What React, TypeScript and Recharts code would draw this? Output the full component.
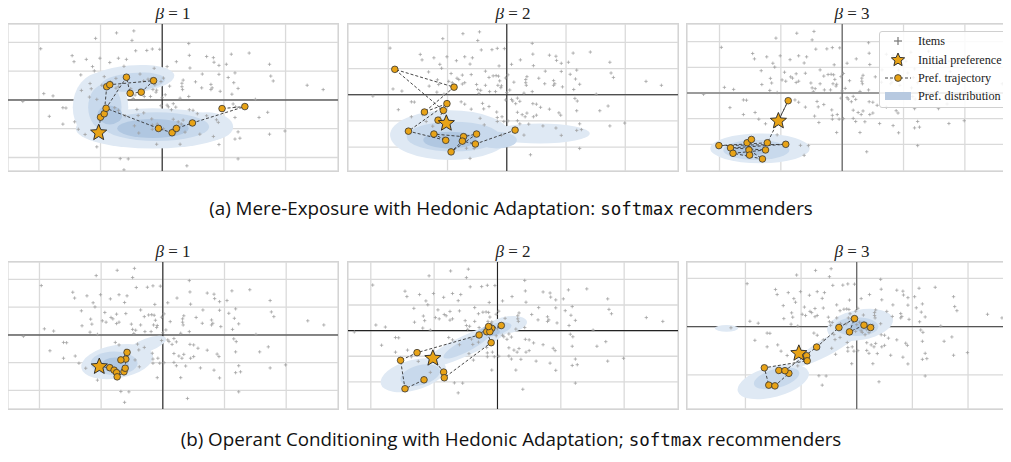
import React from 'react';
import { ScatterChart, Scatter, XAxis, YAxis, CartesianGrid, ReferenceLine } from 'recharts';

type Pt = [number, number];
// [x, y, rx, ry, rotation (deg), level]
type Blob = [number, number, number, number, number, number];

// item embeddings (same items in every panel)
const ITEMS: Pt[] = [
    [-0.74, 2.33], [-0.46, 2.40], [-1.08, 2.14], [-0.49, 2.07], [0.43, 1.96], [-1.97, 1.78], [-0.43, 1.71],
    [-0.25, 1.72], [-0.16, 1.77], [-0.04, 1.76], [0.44, 1.55], [-1.46, 1.54], [-1.23, 1.41], [-1.43, 1.33],
    [-1.01, 1.45], [-0.71, 1.45], [-0.58, 1.41], [0.72, 1.51], [0.83, 1.47], [1.12, 1.59], [1.41, 1.63],
    [1.74, 1.24], [0.84, 1.31], [0.92, 1.20], [1.04, 1.24], [0.23, 1.33], [0.08, 1.16], [-0.13, 1.10],
    [0.45, 1.11], [-0.85, 1.30], [-0.62, 1.17], [-1.13, 1.16], [-1.10, 1.01], [0.65, 0.90], [0.92, 0.89],
    [1.18, 0.94], [-1.32, 0.87], [-0.94, 0.81], [-0.75, 0.75], [-0.60, 0.77], [-0.36, 0.90], [-0.23, 0.72],
    [-0.18, 0.73], [-0.14, 0.71], [0.02, 0.76], [-0.02, 0.64], [0.12, 0.48], [0.34, 0.69], [0.32, 0.58],
    [0.32, 0.46], [0.33, 0.36], [0.54, 0.63], [0.64, 0.42], [0.79, 0.54], [0.81, 0.42], [0.79, 0.36],
    [0.94, 0.30], [1.07, 0.78], [1.16, 0.60], [1.23, 0.40], [1.76, 0.83], [1.80, 0.66], [-0.84, 0.63],
    [-0.81, 0.58], [-0.75, 0.41], [-0.71, 0.46], [-1.17, 0.57], [-1.15, 0.39], [-1.31, 0.33], [-0.98, 0.51],
    [-0.92, 0.46], [-0.30, 0.66], [-0.12, 0.53], [-0.15, 0.36], [-0.10, 0.27], [-0.36, 0.36], [-0.51, 0.39],
    [-0.49, 0.20], [-0.44, 0.17], [-0.47, 0.05], [-0.29, 0.12], [-0.09, 0.34], [-0.19, 0.12], [0.00, 0.08],
    [0.05, 0.18], [0.29, 0.06], [0.43, 0.12], [1.13, 0.20], [-1.92, 0.22], [-1.77, 0.14], [-1.18, 0.10],
    [-1.06, 0.02], [-2.26, -0.05], [2.35, 0.51], [2.61, 0.36], [1.51, 0.02],
    [-1.61, -0.27], [-1.56, -0.28], [-1.83, -0.57], [-1.61, -0.84], [-1.42, -0.76], [-1.36, -1.02],
    [-0.77, -0.27], [-0.71, -0.36], [-0.41, -0.33], [-0.39, -0.54], [-0.02, -0.20], [0.08, -0.18],
    [0.18, -0.13], [0.10, -0.24], [0.15, -0.34], [0.22, -0.25], [0.44, -0.34], [0.50, -0.36], [0.57, -0.48],
    [0.72, -0.55], [0.88, -0.69], [0.91, -0.78], [1.15, -0.14], [1.19, -0.24], [1.18, -0.61], [1.57, -0.61],
    [1.71, -0.43], [0.18, -0.67], [0.26, -0.76], [0.34, -0.70], [0.31, -0.84], [-0.17, -0.66], [-0.16, -0.87],
    [-0.16, -1.02], [-0.08, -0.84], [-0.05, -1.02], [0.02, -1.00], [0.18, -0.99], [0.22, -1.11], [0.37, -1.12],
    [0.45, -0.84], [0.50, -0.78], [0.61, -1.19], [0.83, -1.27], [1.23, -1.11], [1.26, -1.33], [1.18, -1.36],
    [1.74, -1.19], [1.99, -1.08], [-0.09, -1.54], [0.29, -1.54], [0.92, -1.55], [-1.06, -1.63], [-0.68, -2.04],
    [-0.55, -2.05], [1.23, -2.05], [0.40, -2.29], [-0.62, -2.43],
    [-0.45, -0.90], [-0.38, -1.15], [-0.60, -0.55], [-1.25, -1.20], [-0.30, -0.45],
];

// preference trajectories, first entry = initial preference
const TRAJ_A1: Pt[] = [
    [-1.03, -1.14], [-1.00, -0.60], [-0.94, -0.48], [-0.90, 0.46], [-0.85, 0.53], [-0.14, 0.67], [-0.34, 0.27],
    [-0.52, 0.23], [-0.58, 0.79], [-0.91, -0.29], [-0.06, -0.99], [0.16, -1.14], [0.23, -0.99], [0.49, -0.80],
    [1.34, -0.23], [0.97, -0.30],
];
const TRAJ_A2: Pt[] = [
    [-1.02, -1.09], [-1.16, -0.97], [-1.07, -0.60], [-1.89, 0.97], [-0.89, 0.29], [-1.39, -0.66], [-1.01, -0.34],
    [-1.66, -1.39], [-1.03, -1.74], [-1.23, -1.50], [-0.73, -1.60], [-0.51, -1.50], [-0.94, -2.18], [-0.75, -1.77],
    [-0.53, -1.88], [0.14, -1.35],
];
const TRAJ_A3: Pt[] = [
    [-1.04, -1.09], [-0.88, -0.30], [-1.22, -1.94], [-2.01, -2.05], [-0.92, -2.00], [-1.82, -2.14], [-1.25, -2.22],
    [-1.78, -2.35], [-1.30, -2.57], [-1.52, -2.22], [-1.51, -2.42], [-1.55, -1.94], [-1.48, -1.81],
];
const TRAJ_B1: Pt[] = [
    [-1.03, -1.14], [-0.86, -1.18], [-0.79, -1.27], [-0.75, -1.36], [-0.74, -1.51], [-0.63, -1.33], [-0.61, -1.20],
    [-0.60, -0.87], [-0.68, -0.90], [-0.58, -0.63],
];
const TRAJ_B2: Pt[] = [
    [-1.02, -1.08], [-0.85, -1.62], [-0.84, -1.84], [-0.10, -0.47], [-0.17, -0.04], [0.06, 0.20], [-0.09, 0.09],
    [-0.12, -0.04], [-0.14, 0.16], [-0.29, -0.17], [-1.27, -0.86], [-1.53, -1.16], [-1.46, -2.27], [-1.16, -1.92],
];
const TRAJ_B3: Pt[] = [
    [-1.04, -1.11], [-0.90, -1.21], [-0.89, -1.42], [-1.66, -1.71], [-1.58, -2.43], [-1.47, -2.46], [-1.22, -1.94],
    [-1.40, -1.82], [-1.29, -1.83], [-0.72, -0.85], [-0.32, -0.04], [-0.04, 0.33], [-0.13, -0.22], [0.13, 0.06],
    [0.25, -0.04],
];

// preference distribution (kde levels approximated by ellipses)
const BLOB_A1: Blob[] = [
    [-0.15, -0.99, 1.25, 0.70, 0, 1], [-1.00, -0.25, 0.45, 1.20, 0, 1], [-0.52, 0.72, 0.72, 0.48, -5, 1],
    [0.72, -0.93, 0.43, 0.50, 0, 1],
    [-0.09, -0.93, 0.85, 0.50, 0, 2], [-0.93, -0.25, 0.27, 0.80, 0, 2], [-0.47, 0.62, 0.52, 0.32, -5, 2],
    [-0.15, -0.99, 0.58, 0.33, 0, 3], [-0.85, -0.52, 0.20, 0.33, 0, 3],
];
const BLOB_A2: Blob[] = [
    [-0.96, -1.54, 1.01, 0.95, 0, 1], [0.56, -1.48, 0.84, 0.38, 0, 1],
    [-0.90, -1.60, 0.79, 0.57, 0, 2], [-0.17, -1.73, 0.34, 0.32, 0, 2],
    [-0.96, -1.73, 0.45, 0.32, 0, 3],
];
const BLOB_A3: Blob[] = [
    [-1.34, -2.16, 0.81, 0.58, 0, 1],
    [-1.40, -2.22, 0.54, 0.39, 0, 2],
    [-1.50, -2.22, 0.27, 0.23, 0, 3],
];
const BLOB_B1: Blob[] = [
    [-0.74, -0.96, 0.59, 0.60, -10, 1], [-0.25, -0.36, 0.32, 0.24, -20, 1],
    [-0.79, -1.02, 0.38, 0.42, 0, 2],
    [-0.77, -1.08, 0.22, 0.27, 0, 3],
];
const BLOB_B2: Blob[] = [
    [-1.33, -1.74, 0.53, 0.59, -15, 1], [-0.48, -0.56, 0.79, 0.39, -25, 1], [0.15, 0.22, 0.32, 0.33, -10, 1],
    [-1.22, -1.74, 0.32, 0.39, -15, 2], [-0.06, 0.03, 0.29, 0.24, -15, 2], [-0.48, -0.56, 0.42, 0.24, -28, 2],
    [-0.12, -0.04, 0.16, 0.16, 0, 3],
];
const BLOB_B3: Blob[] = [
    [-1.50, -2.29, 0.66, 0.63, -15, 1], [-0.48, -0.76, 0.72, 0.35, -30, 1], [0.06, 0.07, 0.60, 0.63, -10, 1],
    [-2.34, -0.07, 0.21, 0.14, 0, 1],
    [-1.44, -2.15, 0.42, 0.39, -15, 2], [0.00, 0.00, 0.39, 0.39, 0, 2],
    [0.06, 0.04, 0.18, 0.21, 0, 3],
];

const BETAS = [1, 2, 3, 1, 2, 3];

const LEVEL_FILL = ['#dfe9f4', '#c8d9ec', '#b0c7e1'];
const GOLD = '#E8A317';

interface PanelDef {
    left: number; top: number; xd: [number, number]; yd: [number, number];
    traj: Pt[]; blobs: Blob[]; yStep?: number; axis: string;
}

const W = 330;
const H = 147;

const PANELS: PanelDef[] = [
    { left: 8, top: 24, xd: [-2.50, 2.85], yd: [-2.47, 2.64], traj: TRAJ_A1, blobs: BLOB_A1, axis: '#222' },
    { left: 348, top: 24, xd: [-2.68, 2.89], yd: [-2.91, 2.70], traj: TRAJ_A2, blobs: BLOB_A2, axis: '#222' },
    { left: 687, top: 24, xd: [-2.53, 2.85], yd: [-3.04, 2.69], traj: TRAJ_A3, blobs: BLOB_A3, axis: '#555' },
    { left: 8, top: 262, xd: [-2.51, 2.84], yd: [-2.67, 2.63], traj: TRAJ_B1, blobs: BLOB_B1, axis: '#222' },
    { left: 348, top: 262, xd: [-2.36, 2.85], yd: [-3.06, 2.68], traj: TRAJ_B2, blobs: BLOB_B2, axis: '#222' },
    { left: 687, top: 262, xd: [-3.05, 2.88], yd: [-3.42, 2.68], traj: TRAJ_B3, blobs: BLOB_B3, axis: '#555', yStep: 2 },
];

const makeTicks = (d: [number, number], step = 1) => {
    const out: number[] = [];
    for (let v = Math.ceil(d[0] / step) * step; v <= d[1]; v += step) out.push(v);
    return out;
};

const starPath = (cx: number, cy: number, ro: number, ri: number) => {
    let d = '';
    for (let i = 0; i < 10; i++) {
        const r = i % 2 === 0 ? ro : ri;
        const a = -Math.PI / 2 + (i * Math.PI) / 5;
        d += (i === 0 ? 'M' : 'L') + (cx + r * Math.cos(a)).toFixed(2) + ',' + (cy + r * Math.sin(a)).toFixed(2);
    }
    return d + 'Z';
};

const PlusShape = (props: any) => {
    const { cx, cy } = props;
    return (
        <g stroke="#9f9f9f" strokeWidth={0.75}>
            <line x1={cx - 1.7} y1={cy} x2={cx + 1.7} y2={cy} />
            <line x1={cx} y1={cy - 1.7} x2={cx} y2={cy + 1.7} />
        </g>
    );
};

const Panel: React.FC<{ p: PanelDef; beta: number }> = ({ p, beta }) => {
    const sx = W / (p.xd[1] - p.xd[0]);
    const sy = H / (p.yd[1] - p.yd[0]);
    const items = ITEMS.map(([x, y]) => ({ x, y }));
    const traj = p.traj.map(([x, y], i) => ({ x, y, first: i === 0 }));
    const levels = [1, 2, 3].map(lv =>
        p.blobs.filter(b => b[5] === lv).map(([x, y, rx, ry, rot]) => ({ x, y, rx, ry, rot }))
    );

    return (
        <>
            <div style={{
                position: 'absolute', left: p.left, top: p.top - 20, width: W, textAlign: 'center',
                fontFamily: '"Liberation Serif", serif', fontSize: 17, color: '#222', lineHeight: '20px',
            }}>
                <span style={{ fontStyle: 'italic' }}>β</span> = {beta}
            </div>
            <div style={{ position: 'absolute', left: p.left, top: p.top, width: W, height: H, outline: '1.5px solid #d4d4d4' }}>
                <ScatterChart width={W} height={H} margin={{ top: 0, right: 0, bottom: 0, left: 0 }}>
                    <XAxis type="number" dataKey="x" domain={p.xd} ticks={makeTicks(p.xd)} hide allowDataOverflow />
                    <YAxis type="number" dataKey="y" domain={p.yd} ticks={makeTicks(p.yd, p.yStep || 1)} hide allowDataOverflow />
                    <CartesianGrid stroke="#dadada" strokeWidth={1.3} />
                    {levels.map((data, i) => (
                        <Scatter
                            key={i}
                            data={data}
                            isAnimationActive={false}
                            shape={(s: any) => (
                                <ellipse
                                    cx={s.cx}
                                    cy={s.cy}
                                    rx={s.payload.rx * sx}
                                    ry={s.payload.ry * sy}
                                    transform={`rotate(${s.payload.rot} ${s.cx} ${s.cy})`}
                                    fill={LEVEL_FILL[i]}
                                />
                            )}
                        />
                    ))}
                    <ReferenceLine x={0} stroke={p.axis} strokeWidth={1.1} />
                    <ReferenceLine y={0} stroke={p.axis} strokeWidth={1.1} />
                    <Scatter data={items} isAnimationActive={false} shape={PlusShape} />
                    <Scatter
                        data={traj}
                        isAnimationActive={false}
                        line={{ stroke: '#333', strokeWidth: 0.9, strokeDasharray: '3 2' }}
                        shape={(s: any) => s.payload.first
                            ? <g />
                            : <circle cx={s.cx} cy={s.cy} r={3.3} fill={GOLD} stroke="#333" strokeWidth={0.8} />}
                    />
                    <Scatter
                        data={traj.slice(0, 1)}
                        isAnimationActive={false}
                        shape={(s: any) => <path d={starPath(s.cx, s.cy, 8.5, 3.8)} fill={GOLD} stroke="#222" strokeWidth={0.9} />}
                    />
                </ScatterChart>
            </div>
        </>
    );
};

const LegendBox = () => {
    const row = { position: 'absolute' as const, left: 38, fontFamily: '"Liberation Serif", serif', fontSize: 12.2, color: '#222', lineHeight: '14px', whiteSpace: 'nowrap' as const };
    return (
        <div style={{
            position: 'absolute', left: 879, top: 31, width: 150, height: 75, background: 'rgba(255,255,255,0.85)',
            border: '1px solid #d0d0d0', borderRadius: 3,
        }}>
            <svg width={40} height={75} style={{ position: 'absolute', left: 0, top: 0 }}>
                <g stroke="#777" strokeWidth={1.2}>
                    <line x1={14} y1={9} x2={22} y2={9} />
                    <line x1={18} y1={5} x2={18} y2={13} />
                </g>
                <path d={starPath(18, 28, 7, 3.2)} fill={GOLD} stroke="#222" strokeWidth={0.9} />
                <line x1={5} y1={46} x2={31} y2={46} stroke="#333" strokeWidth={0.9} strokeDasharray="3 2" />
                <circle cx={18} cy={46} r={3.4} fill={GOLD} stroke="#333" strokeWidth={0.8} />
                <rect x={5} y={60} width={26} height={8} fill="#b7c9e0" />
            </svg>
            <div style={{ ...row, top: 2 }}>Items</div>
            <div style={{ ...row, top: 21 }}>Initial preference</div>
            <div style={{ ...row, top: 39 }}>Pref. trajectory</div>
            <div style={{ ...row, top: 57 }}>Pref. distribution</div>
        </div>
    );
};

const Caption: React.FC<{ top: number; label: string; sep: string }> = ({ top, label, sep }) => (
    <div style={{
        position: 'absolute', left: 0, top, width: 1022, textAlign: 'center',
        fontFamily: '"Open Sans", sans-serif', fontSize: 18.8, color: '#111', lineHeight: '24px',
    }}>
        {label}{sep} <span style={{ fontFamily: '"DejaVu Sans Mono", monospace', fontSize: 17.5 }}>softmax</span> recommenders
    </div>
);

export default function App() {
    return (
        <div style={{ position: 'relative', width: 1011, height: 462, margin: -8, overflow: 'hidden', background: '#fff' }}>
            {PANELS.map((p, i) => <Panel key={i} p={p} beta={BETAS[i]} />)}
            <LegendBox />
            <Caption top={196} label="(a) Mere-Exposure with Hedonic Adaptation" sep=":" />
            <Caption top={427} label="(b) Operant Conditioning with Hedonic Adaptation" sep=";" />
        </div>
    );
}
